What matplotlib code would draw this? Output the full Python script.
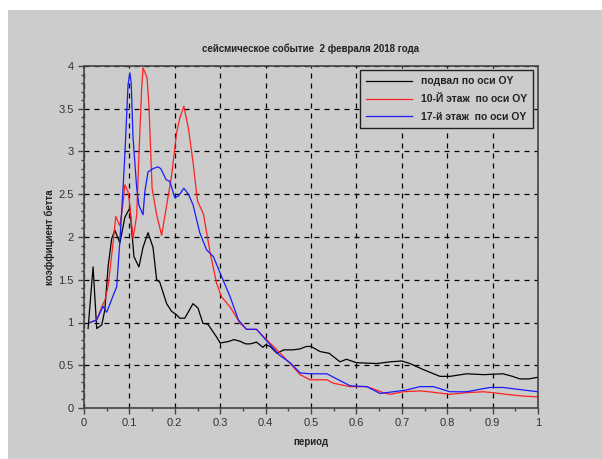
import matplotlib
matplotlib.use("Agg")
import matplotlib.pyplot as plt
from matplotlib.patches import Rectangle
from matplotlib.ticker import MultipleLocator, FuncFormatter

plt.rcParams['font.family'] = ['Liberation Sans', 'DejaVu Sans']

title = "сейсмическое событие  2 февраля 2018 года"
xlabel = "период"
ylabel = "коэффициент бетта"
labels = ["подвал по оси OY", "10-Й этаж  по оси OY", "17-й этаж  по оси OY"]

x_base = [0.009, 0.02, 0.028, 0.039, 0.046, 0.053, 0.061, 0.068, 0.079, 0.09, 0.101, 0.11,
          0.121, 0.13, 0.141, 0.152, 0.16, 0.167, 0.182, 0.193, 0.204, 0.211, 0.222, 0.24,
          0.251, 0.262, 0.273, 0.292, 0.30, 0.31, 0.32, 0.33, 0.344, 0.356, 0.366, 0.38,
          0.394, 0.40, 0.41, 0.425, 0.44, 0.46, 0.475, 0.49, 0.5, 0.52, 0.54, 0.564, 0.578,
          0.60, 0.645, 0.674, 0.70, 0.718, 0.747, 0.784, 0.806, 0.843, 0.88, 0.923, 0.944,
          0.96, 0.98, 1.0]
y_base = [0.93, 1.65, 0.93, 0.97, 1.15, 1.65, 1.98, 2.08, 1.93, 2.23, 2.34, 1.77,
          1.65, 1.88, 2.05, 1.88, 1.5, 1.47, 1.22, 1.13, 1.09, 1.05, 1.05, 1.22,
          1.17, 0.99, 0.98, 0.83, 0.76, 0.77, 0.78, 0.80, 0.78, 0.75, 0.75, 0.77,
          0.71, 0.74, 0.72, 0.64, 0.68, 0.68, 0.69, 0.72, 0.72, 0.66, 0.64, 0.54, 0.57,
          0.53, 0.52, 0.54, 0.55, 0.52, 0.45, 0.37, 0.37, 0.40, 0.39, 0.40, 0.37,
          0.34, 0.34, 0.36]

x_f10 = [0.013, 0.028, 0.039, 0.046, 0.053, 0.064, 0.07, 0.079, 0.085, 0.09, 0.097, 0.101,
         0.108, 0.116, 0.121, 0.127, 0.13, 0.139, 0.143, 0.15, 0.16, 0.171, 0.182, 0.193,
         0.204, 0.211, 0.22, 0.23, 0.24, 0.25, 0.263, 0.277, 0.292, 0.303, 0.322, 0.344,
         0.358, 0.38, 0.40, 0.425, 0.454, 0.476, 0.498, 0.535, 0.549, 0.586, 0.623, 0.659,
         0.674, 0.703, 0.74, 0.76, 0.806, 0.843, 0.88, 0.90, 0.93, 0.967, 1.0]
y_f10 = [1.0, 1.03, 1.18, 1.26, 1.42, 1.93, 2.24, 2.13, 2.35, 2.61, 2.53, 2.37,
         1.98, 2.25, 2.96, 3.74, 3.98, 3.86, 3.54, 2.57, 2.26, 2.02, 2.37, 2.72,
         3.22, 3.39, 3.53, 3.27, 2.88, 2.42, 2.27, 1.84, 1.46, 1.30, 1.18, 0.99,
         0.92, 0.92, 0.81, 0.68, 0.52, 0.39, 0.33, 0.33, 0.29, 0.25, 0.25, 0.18,
         0.16, 0.19, 0.20, 0.19, 0.16, 0.18, 0.19, 0.18, 0.16, 0.14, 0.13]

x_f17 = [0.013, 0.028, 0.042, 0.05, 0.072, 0.075, 0.079, 0.086, 0.09, 0.097, 0.101, 0.104,
         0.108, 0.116, 0.121, 0.13, 0.134, 0.141, 0.152, 0.163, 0.169, 0.181, 0.189, 0.20,
         0.208, 0.22, 0.23, 0.24, 0.255, 0.27, 0.285, 0.306, 0.322, 0.34, 0.358, 0.38,
         0.40, 0.43, 0.454, 0.476, 0.498, 0.535, 0.586, 0.623, 0.652, 0.681, 0.71, 0.74,
         0.77, 0.806, 0.843, 0.894, 0.923, 0.953, 1.0]
y_f17 = [1.0, 1.03, 1.19, 1.12, 1.42, 1.65, 1.95, 2.57, 2.96, 3.78, 3.92, 3.8,
         3.16, 2.58, 2.37, 2.26, 2.53, 2.76, 2.80, 2.82, 2.80, 2.67, 2.65, 2.46,
         2.48, 2.57, 2.50, 2.38, 2.05, 1.85, 1.77, 1.5, 1.30, 1.03, 0.92, 0.92,
         0.80, 0.62, 0.53, 0.41, 0.40, 0.40, 0.26, 0.25, 0.17, 0.19, 0.21, 0.25,
         0.25, 0.19, 0.19, 0.24, 0.24, 0.22, 0.19]

W, H = 602, 459
fig = plt.figure(figsize=(W / 100, H / 100), dpi=100, facecolor='white')
bg = '#cccccc'
fig.patches.append(Rectangle((8 / W, 0), 1 - 8 / W, 1 - 10 / H, transform=fig.transFigure,
                             facecolor=bg, edgecolor='none', zorder=-10))

ax = fig.add_axes([84 / W, (H - 408) / H, (538 - 84) / W, (408 - 66) / H])
ax.set_facecolor(bg)

ax.plot(x_base, y_base, color='black', lw=0.9, label=labels[0])
ax.plot(x_f10, y_f10, color='#ff2020', lw=0.9, label=labels[1])
ax.plot(x_f17, y_f17, color='#1a1aff', lw=0.9, label=labels[2])

ax.set_xlim(0, 1)
ax.set_ylim(0, 4)
ax.xaxis.set_major_locator(MultipleLocator(0.1))
ax.xaxis.set_minor_locator(MultipleLocator(0.05))
ax.yaxis.set_major_locator(MultipleLocator(0.5))
ax.yaxis.set_minor_locator(MultipleLocator(0.1))
ax.xaxis.set_major_formatter(FuncFormatter(lambda v, p: f"{round(v, 2):g}"))
ax.yaxis.set_major_formatter(FuncFormatter(lambda v, p: f"{round(v, 2):g}"))

ax.grid(True, which='major', color='black', linestyle=(0, (4, 4)), linewidth=0.9)
for s in ax.spines.values():
    s.set_color('#444444')
    s.set_linewidth(1.2)
ax.tick_params(which='major', direction='out', length=4, width=1, colors='#444444',
               labelsize=8, labelcolor='#333333')
ax.tick_params(which='minor', direction='out', length=2.5, width=1, colors='#444444')

ax.set_title(title, fontsize=7, fontweight='bold', color='#222222', pad=10)
ax.set_xlabel(xlabel, fontsize=7, fontweight='bold', color='#222222', labelpad=6)
ax.set_ylabel(ylabel, fontsize=7, fontweight='bold', color='#222222', labelpad=2)

leg = ax.legend(loc='upper right', bbox_to_anchor=(0.989, 0.988), borderaxespad=0,
                prop={'weight': 'bold', 'size': 7.5}, fancybox=False, framealpha=1,
                facecolor=bg, edgecolor='#222222', handlelength=4.4, labelspacing=0.75,
                borderpad=0.6, handletextpad=0.8)
leg.get_frame().set_linewidth(1.0)
for t in leg.get_texts():
    t.set_color('#222222')

fig.savefig('out.png', dpi=100, facecolor='white')
